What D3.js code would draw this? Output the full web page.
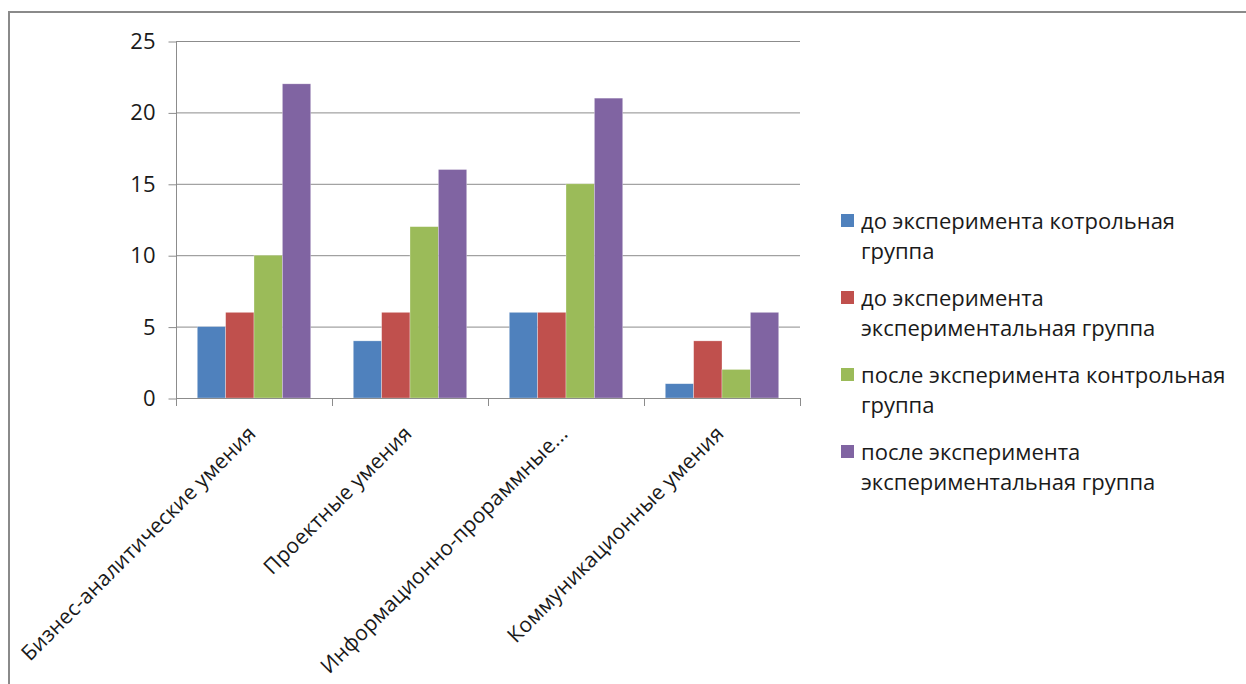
<!DOCTYPE html>
<html>
<head>
<meta charset="utf-8">
<script src="https://cdn.jsdelivr.net/npm/d3@7"></script>
<style>
    body { margin: 0; background: #fff; }
    svg { display: block; font-family: "Open Sans", sans-serif; }
</style>
</head>
<body>
<svg width="1246" height="684"></svg>
<script>
    // Данные диаграммы.
    const categories = [
        "Бизнес-аналитические умения",
        "Проектные умения",
        "Информационно-прораммные...",
        "Коммуникационные умения"
    ];
    const seriesNames = [
        "до эксперимента котрольная группа",
        "до эксперимента экспериментальная группа",
        "после эксперимента контрольная группа",
        "после эксперимента экспериментальная группа"
    ];
    const legendLines = [
        ["до эксперимента котрольная", "группа"],
        ["до эксперимента", "экспериментальная группа"],
        ["после эксперимента контрольная", "группа"],
        ["после эксперимента", "экспериментальная группа"]
    ];
    const beforeControl = [5, 4, 6, 1];
    const beforeExperimental = [6, 6, 6, 4];
    const afterControl = [10, 12, 15, 2];
    const afterExperimental = [22, 16, 21, 6];
    const yTicks = [0, 5, 10, 15, 20, 25];
    const colors = ["#4F81BD", "#C0504D", "#9BBB59", "#8064A2"];

    const seriesValues = [beforeControl, beforeExperimental, afterControl, afterExperimental];

    // Размеры области построения.
    const plot = { left: 176, right: 800, top: 41, bottom: 398 };

    const svg = d3.select("svg");

    // Рамка диаграммы.
    svg.append("rect")
        .attr("x", 9)
        .attr("y", 12)
        .attr("width", 1300)
        .attr("height", 800)
        .attr("fill", "none")
        .attr("stroke", "#8a8a8a")
        .attr("stroke-width", 2);

    // Шкалы.
    const x0 = d3.scaleBand()
        .domain(categories)
        .range([plot.left, plot.right])
        .padding(0);

    const x1 = d3.scaleBand()
        .domain(d3.range(seriesNames.length))
        .range([0, x0.bandwidth()])
        .paddingInner(0)
        .paddingOuter(0.75);

    const yScale = d3.scaleLinear()
        .domain([0, 25])
        .range([plot.bottom, plot.top]);

    // Сетка.
    svg.append("g")
        .selectAll("line")
        .data(yTicks)
        .enter()
        .append("line")
        .attr("x1", plot.left)
        .attr("x2", plot.right)
        .attr("y1", d => yScale(d) + 0.5)
        .attr("y2", d => yScale(d) + 0.5)
        .attr("stroke", "#8c8c8c")
        .attr("stroke-width", 1);

    // Столбцы.
    const groups = svg.append("g")
        .selectAll("g")
        .data(categories)
        .enter()
        .append("g")
        .attr("transform", d => `translate(${x0(d)},0)`);

    groups.selectAll("rect")
        .data((d, ci) => seriesValues.map((vals, si) => ({ si: si, v: vals[ci] })))
        .enter()
        .append("rect")
        .attr("x", d => x1(d.si))
        .attr("y", d => yScale(d.v))
        .attr("width", x1.bandwidth())
        .attr("height", d => yScale(0) - yScale(d.v))
        .attr("fill", d => colors[d.si])
        .attr("stroke", "rgba(255,255,255,0.5)")
        .attr("stroke-width", 0.6);

    // Ось Y.
    const yAxis = d3.axisLeft(yScale)
        .tickValues(yTicks)
        .tickSize(8)
        .tickPadding(13);

    const yAxisGroup = svg.append("g")
        .attr("transform", `translate(${plot.left + 0.5},0.5)`)
        .call(yAxis);
    yAxisGroup.select(".domain").attr("stroke", "#8c8c8c").attr("d", `M0,${plot.top}V${plot.bottom}`);
    yAxisGroup.selectAll(".tick line").attr("stroke", "#8c8c8c");
    yAxisGroup.selectAll(".tick text")
        .style("font-family", "'Open Sans', sans-serif")
        .style("font-size", "22px")
        .attr("fill", "#1a1a1a");

    // Ось X: линия и засечки на границах категорий.
    svg.append("line")
        .attr("x1", plot.left)
        .attr("x2", plot.right)
        .attr("y1", plot.bottom + 0.5)
        .attr("y2", plot.bottom + 0.5)
        .attr("stroke", "#8c8c8c");

    const boundaries = categories.map(c => x0(c)).concat([plot.right]);
    svg.append("g")
        .selectAll("line")
        .data(boundaries)
        .enter()
        .append("line")
        .attr("x1", d => d + 0.5)
        .attr("x2", d => d + 0.5)
        .attr("y1", plot.bottom)
        .attr("y2", plot.bottom + 8)
        .attr("stroke", "#8c8c8c");

    // Подписи категорий под углом 45°.
    svg.append("g")
        .selectAll("text")
        .data(categories)
        .enter()
        .append("text")
        .attr("transform", d => `translate(${x0(d) + x0.bandwidth() / 2 + 3},${plot.bottom + 37}) rotate(-45)`)
        .style("text-anchor", "end")
        .style("font-size", "21px")
        .style("letter-spacing", "0.2px")
        .attr("fill", "#1a1a1a")
        .text(d => d);

    // Легенда.
    const legend = svg.append("g")
        .attr("transform", "translate(841,214)");

    const items = legend.selectAll("g")
        .data(legendLines)
        .enter()
        .append("g")
        .attr("transform", (d, i) => `translate(0,${i * 77})`);

    items.append("rect")
        .attr("width", 13)
        .attr("height", 13)
        .attr("fill", (d, i) => colors[i]);

    items.append("text")
        .attr("x", 20)
        .attr("y", 15)
        .style("font-size", "22px")
        .attr("fill", "#1a1a1a")
        .selectAll("tspan")
        .data(d => d)
        .enter()
        .append("tspan")
        .attr("x", 20)
        .attr("dy", (d, i) => i === 0 ? 0 : 30)
        .text(d => d);
</script>
</body>
</html>
